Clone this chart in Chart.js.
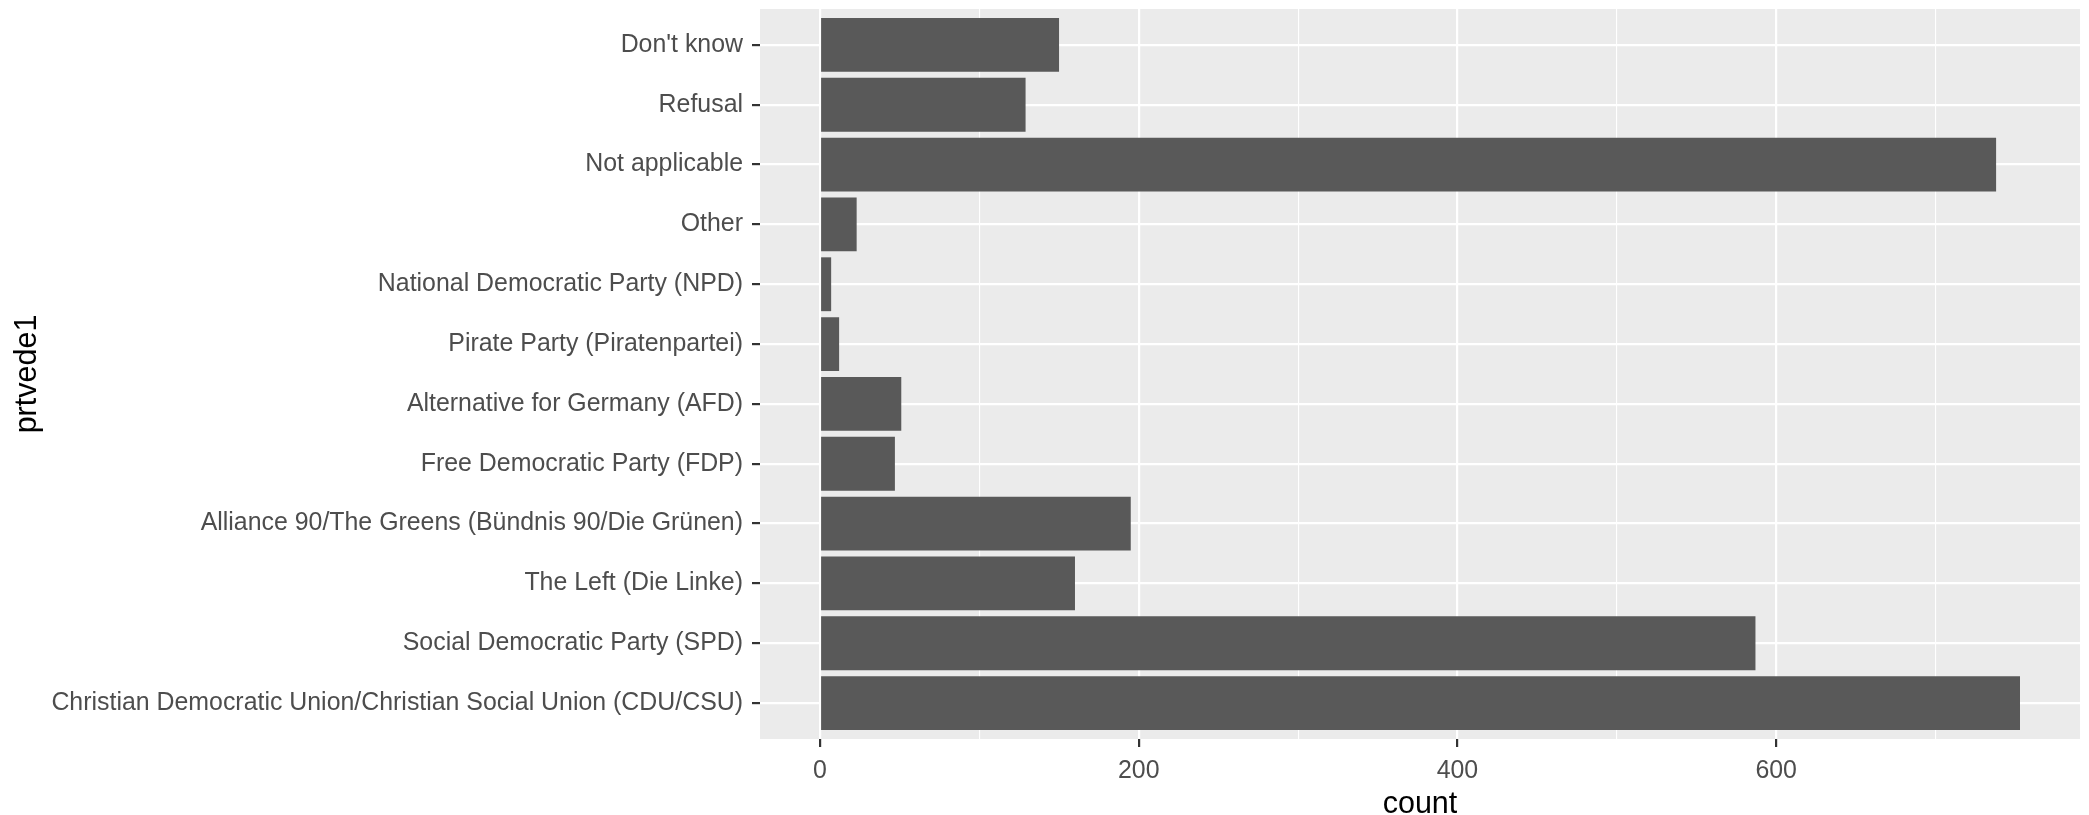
<!DOCTYPE html>
<html>
<head>
<meta charset="utf-8">
<title>prtvede1 counts</title>
<script src="https://cdn.jsdelivr.net/npm/chart.js@4/dist/chart.umd.min.js"></script>
<style>
    html, body { margin: 0; padding: 0; background: #ffffff; }
    canvas { display: block; }
</style>
</head>
<body>
<canvas id="partyChart" width="2089" height="815"></canvas>
<script>
// Categories from top to bottom, as they sit on the y axis
const categories = [
    "Don't know",
    'Refusal',
    'Not applicable',
    'Other',
    'National Democratic Party (NPD)',
    'Pirate Party (Piratenpartei)',
    'Alternative for Germany (AFD)',
    'Free Democratic Party (FDP)',
    'Alliance 90/The Greens (Bündnis 90/Die Grünen)',
    'The Left (Die Linke)',
    'Social Democratic Party (SPD)',
    'Christian Democratic Union/Christian Social Union (CDU/CSU)'
];
const counts = [150, 129, 738, 23, 7, 12, 51, 47, 195, 160, 587, 753];

// Major ticks get a label, the others are minor grid lines only
const xGridValues = [0, 100, 200, 300, 400, 500, 600, 700];
const xTickLabels = [0, 200, 400, 600];

const FONT = '"Liberation Sans", Arial, sans-serif';
const maxCount = Math.max(...counts);

// gray panel behind the plot, like the ggplot theme
const panelBackground = {
    id: 'panelBackground',
    beforeDraw(chart) {
        const { ctx, chartArea: a } = chart;
        ctx.save();
        ctx.fillStyle = '#EBEBEB';
        ctx.fillRect(a.left, a.top, a.right - a.left, a.bottom - a.top);
        ctx.restore();
    }
};

const isMajor = (v) => xTickLabels.includes(v);

new Chart(document.getElementById('partyChart'), {
    type: 'bar',
    data: {
        datasets: [{
            data: counts.map((c, i) => ({ x: c, y: i })),
            backgroundColor: '#595959',
            borderWidth: 0,
            barPercentage: 0.9,
            categoryPercentage: 1.0
        }]
    },
    options: {
        indexAxis: 'y',
        responsive: false,
        animation: false,
        devicePixelRatio: 1,
        layout: { padding: { top: 9, right: 9, bottom: 0, left: 0 } },
        plugins: {
            legend: { display: false },
            tooltip: { enabled: false }
        },
        scales: {
            x: {
                type: 'linear',
                min: -0.05 * maxCount,
                max: 1.05 * maxCount,
                afterBuildTicks: (scale) => { scale.ticks = xGridValues.map(v => ({ value: v })); },
                afterFit: (scale) => {
                    scale.height = 76;
                    scale.paddingLeft = 0;
                    scale.paddingRight = 0;
                },
                border: { display: false },
                grid: {
                    color: '#FFFFFF',
                    lineWidth: (c) => isMajor(c.tick.value) ? 2.2 : 1.1,
                    tickColor: (c) => isMajor(c.tick.value) ? '#333333' : 'rgba(0,0,0,0)',
                    tickWidth: 2.2,
                    tickLength: 8
                },
                ticks: {
                    autoSkip: false,
                    maxRotation: 0,
                    padding: 9,
                    color: '#4D4D4D',
                    font: { family: FONT, size: 24.9 },
                    callback: (v) => isMajor(v) ? String(v) : ''
                },
                title: {
                    display: true,
                    text: 'count',
                    color: '#000000',
                    font: { family: FONT, size: 30.5, lineHeight: 1 },
                    padding: { top: 0, bottom: -5 }
                }
            },
            y: {
                type: 'linear',
                reverse: true,
                offset: false,
                min: -0.6,
                max: categories.length - 0.4,
                afterBuildTicks: (scale) => { scale.ticks = categories.map((_, i) => ({ value: i })); },
                afterFit: (scale) => {
                    // fixed width, and no extra room for half labels at the ends
                    scale.width = 760;
                    scale.paddingTop = 0;
                    scale.paddingBottom = 0;
                },
                border: { display: false },
                grid: {
                    offset: false,
                    color: '#FFFFFF',
                    lineWidth: 2.2,
                    tickColor: '#333333',
                    tickWidth: 2.2,
                    tickLength: 8
                },
                ticks: {
                    autoSkip: false,
                    padding: 9,
                    color: '#4D4D4D',
                    font: { family: FONT, size: 24.9 },
                    callback: (v) => categories[v]
                },
                title: {
                    display: true,
                    text: 'prtvede1',
                    color: '#000000',
                    font: { family: FONT, size: 30.5, lineHeight: 1 },
                    padding: { top: 12, bottom: 0 }
                }
            }
        }
    },
    plugins: [panelBackground]
});
</script>
</body>
</html>
